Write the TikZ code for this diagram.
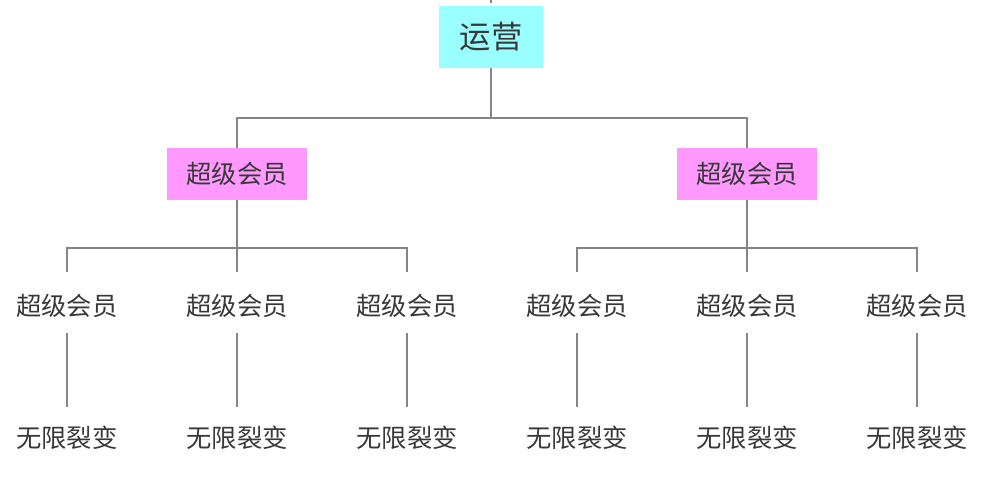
\documentclass[tikz,border=0pt]{standalone}
\usepackage{fontspec}
\newfontfamily\cjk{Noto Sans CJK SC}
\begin{document}
\begin{tikzpicture}[x=0.75pt,y=-0.75pt,
  lbl/.style={font=\cjk\fontsize{19}{22}\selectfont, text=black!78, inner sep=0pt},
  topbox/.style={minimum width=104*0.75pt, minimum height=62*0.75pt, inner sep=0pt, font=\cjk\fontsize{23.5}{26}\selectfont, text=black!78},
  pinkbox/.style={minimum width=140*0.75pt, minimum height=52*0.75pt, inner sep=0pt, font=\cjk\fontsize{19}{22}\selectfont, text=black!78},
  conn/.style={draw=black!48, line width=1.5pt}]
\useasboundingbox (0,0) rectangle (1002,484);
\definecolor{topcyan}{HTML}{99FFFF}
\definecolor{toppink}{HTML}{FF99FF}
\node[topbox, fill=topcyan] (top) at (491,37) {运营};
\node[pinkbox, fill=toppink] (L) at (237,174) {超级会员};
\node[pinkbox, fill=toppink] (R) at (747,174) {超级会员};
\coordinate (stub) at (491,-2);
\coordinate (stubend) at (491,3);
\draw[conn] (stub) -- (stubend);
\coordinate (h1) at (491,118);
\draw[conn] (top.south) -- (h1);
\draw[conn] (L.north) |- (h1) -| (R.north);
\foreach \g/\xa/\xb/\xc in {L/67/237/407, R/577/747/917}{
  \coordinate (\g h) at (\xb,248);
  \coordinate (\g ha) at (\xa,248);
  \draw[conn] (\g.south) -- (\g h);
  \foreach \i/\x in {1/\xa,2/\xb,3/\xc}{
    \node[lbl] (\g m\i) at (\x,306) {超级会员};
    \node[lbl] (\g b\i) at (\x,438) {无限裂变};
    \coordinate (\g t\i) at (\x,272);
    \coordinate (\g u\i) at (\x,333);
    \coordinate (\g v\i) at (\x,407);
    \draw[conn] (\g u\i) -- (\g v\i);
  }
  \draw[conn] (\g t1) |- (\g h) -| (\g t3);
  \draw[conn] (\g h) -- (\g t2);
}
\end{tikzpicture}
\end{document}
